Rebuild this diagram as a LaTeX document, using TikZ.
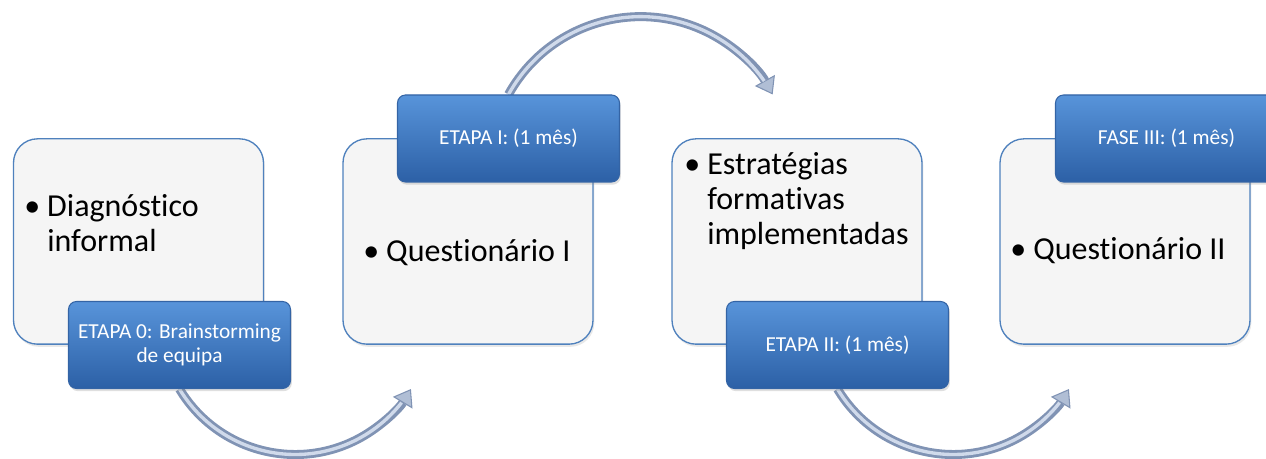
\documentclass[tikz,border=0pt]{standalone}
\usepackage{fontspec}
\setmainfont{Carlito}[Ligatures=NoCommon]
\usetikzlibrary{arrows.meta,shadows}
\pgfdeclarelayer{fundo}
\pgfsetlayers{fundo,main}
\definecolor{borda}{RGB}{79,129,189}
\definecolor{caixafundo}{RGB}{245,245,245}
\definecolor{azulclaro}{RGB}{88,148,218}
\definecolor{azulmeio}{RGB}{62,122,196}
\definecolor{azulescuro}{RGB}{44,96,166}
\definecolor{azulborda}{RGB}{52,100,165}
\definecolor{setaescura}{RGB}{128,147,180}
\definecolor{setaclara}{RGB}{208,218,235}
\newcommand{\topico}[1]{\makebox[17.25pt][l]{\textbullet}\begin{tabular}[t]{@{}l@{}}#1\end{tabular}}
\begin{document}
\begin{tikzpicture}[x=0.75pt,y=0.75pt,
  caixa/.style={draw=borda,line width=1pt,fill=caixafundo,rounded corners=18pt,
    minimum width=187.5pt,minimum height=154pt,
    drop shadow={opacity=0.18,shadow xshift=1pt,shadow yshift=-2pt}},
  etapa/.style={draw=azulborda,line width=0.8pt,top color=azulclaro,middle color=azulmeio,
    bottom color=azulescuro,rounded corners=6pt,minimum width=166.5pt,minimum height=65.25pt,
    text=white,align=center,font=\fontsize{16}{17.5}\selectfont,
    drop shadow={opacity=0.25,shadow xshift=1pt,shadow yshift=-2pt}},
  topicos/.style={anchor=base west,inner sep=0pt,font=\fontsize{24}{26}\selectfont},
  seta/.style={line width=6.75pt,setaescura,
    -{Triangle[width=17pt,length=12pt,fill=setaclara!60!setaescura,line width=0.8pt]}},
  brilho/.style={line width=2.5pt,setaclara}]
\clip(0,0)rectangle(1266,459);
\node[caixa](caixa0)at(138.5,217.5){};
\node[caixa](caixa1)at(468,217.5){};
\node[caixa](caixa2)at(797,217.5){};
\node[caixa](caixa3)at(1125,217.5){};
\node[topicos](texto0)at(24,242){\topico{Diagnóstico\\informal}};
\node[topicos](texto1)at(363,197.3){\topico{Questionário I}};
\node[topicos](texto2)at(684,284){\topico{Estratégias\\formativas\\implementadas}};
\node[topicos](texto3)at(1010,199){\topico{Questionário II}};
\node[etapa](etapa0)at(179.5,114){ETAPA 0: Brainstorming\\de equipa};
\node[etapa](etapa1)at(508.5,320.5){ETAPA I: (1 mês)};
\node[etapa](etapa2)at(837.5,114){ETAPA II: (1 mês)};
\node[etapa](etapa3)at(1166.5,320.5){FASE III: (1 mês)};
\begin{pgfonlayer}{fundo}
  \draw[seta](etapa0.south)arc[start angle=211,end angle=329,radius=135];
  \draw[brilho](etapa0.south)arc[start angle=211,end angle=322,radius=135];
  \draw[seta](etapa1.north)arc[start angle=151,end angle=29,radius=151];
  \draw[brilho](etapa1.north)arc[start angle=151,end angle=35,radius=151];
  \draw[seta](etapa2.south)arc[start angle=211,end angle=329,radius=135];
  \draw[brilho](etapa2.south)arc[start angle=211,end angle=322,radius=135];
\end{pgfonlayer}
\end{tikzpicture}
\end{document}
